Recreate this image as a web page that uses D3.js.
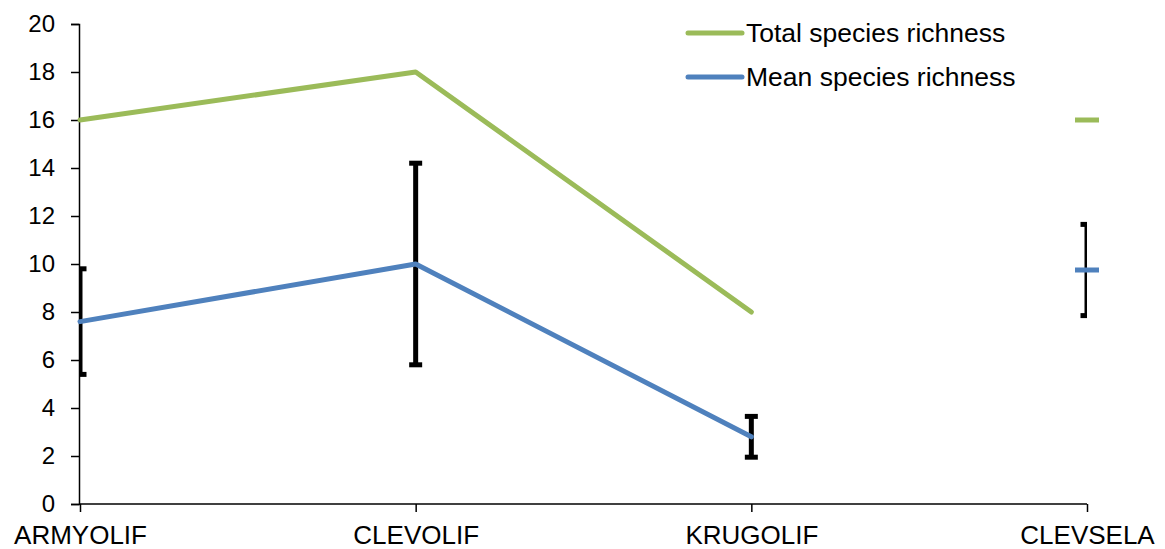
<!DOCTYPE html>
<html>
<head>
  <script src="https://d3js.org/d3.v7.js"></script>
  <style>
    html, body {
      margin: 0px;
      padding: 0px;
      background: #fff;
      font-family: "Liberation Sans", Arial, sans-serif;
    }
    #chart {
      width: 1165px;
      height: 549px;
      position: relative;
    }
    .axis text {
      font-family: "Liberation Sans", Arial, sans-serif;
      fill: #000;
    }
    .legend text {
      font-size: 26.5px;
    }
  </style>
</head>
<body>
  <div id="chart"></div>
  <script>
    /* data */
    const sites = ["ARMYOLIF", "CLEVOLIF", "KRUGOLIF", "CLEVSELA"];
    const totalRichness = [16, 18, 8, 16];
    const meanRichness = [7.6, 10, 2.8, 9.75];
    const meanError = [2.2, 4.2, 0.85, 1.9];
    // the last site is not joined to the line, it shows only as a dash marker
    const joined = [true, true, true, false];
    const yTicks = [0, 2, 4, 6, 8, 10, 12, 14, 16, 18, 20];

    const width = 1165, height = 549;
    const margin = {top: 24, left: 80, right: 78, bottom: 45};

    const svg = d3.select("#chart")
      .append("svg")
      .attr("width", width)
      .attr("height", height);

    const xScale = d3.scalePoint()
      .domain(sites)
      .range([margin.left, width - margin.right]);

    const yScale = d3.scaleLinear()
      .domain([0, 20])
      .range([height - margin.bottom, margin.top]);

    // clip for error bars (caps get cut at the plot edges)
    svg.append("clipPath").attr("id", "plotClip")
      .append("rect")
        .attr("x", margin.left)
        .attr("y", 0)
        .attr("width", width - margin.right - margin.left)
        .attr("height", height);

    /* axes */
    const yAxis = svg.append("g")
      .attr("class", "axis")
      .attr("transform", `translate(${margin.left - 1},0)`)
      .call(d3.axisLeft(yScale).tickValues(yTicks).tickSize(8).tickPadding(16));

    const xAxis = svg.append("g")
      .attr("class", "axis")
      .attr("transform", `translate(0,${height - margin.bottom})`)
      .call(d3.axisBottom(xScale).tickSize(8).tickPadding(14).tickSizeOuter(0));

    svg.selectAll(".axis path, .axis line")
      .attr("stroke", "#000")
      .attr("stroke-width", 1.5);
    yAxis.selectAll("text").attr("font-size", "24px");
    xAxis.selectAll("text").attr("font-size", "26px");
    xAxis.select(".domain").attr("d", `M${margin.left - 1},0H${width - margin.right}`);

    /* error bars */
    const errBars = svg.append("g")
      .attr("clip-path", "url(#plotClip)")
      .selectAll("g")
      .data(sites)
      .enter()
      .append("g")
        .attr("stroke", "#000")
        .attr("stroke-width", 5);

    errBars.append("line")
      .attr("x1", d => xScale(d))
      .attr("x2", d => xScale(d))
      .attr("y1", (d, i) => yScale(meanRichness[i] + meanError[i]))
      .attr("y2", (d, i) => yScale(meanRichness[i] - meanError[i]));

    [1, -1].forEach(function(sign) {
      errBars.append("line")
        .attr("x1", d => xScale(d) - 6.5)
        .attr("x2", d => xScale(d) + 6.5)
        .attr("y1", (d, i) => yScale(meanRichness[i] + sign * meanError[i]))
        .attr("y2", (d, i) => yScale(meanRichness[i] + sign * meanError[i]));
    });

    /* lines */
    const series = [
      {name: "Total species richness", values: totalRichness, color: "#9BBB59"},
      {name: "Mean species richness", values: meanRichness, color: "#4F81BD"}
    ];

    const line = d3.line()
      .defined((d, i) => joined[i])
      .x((d, i) => xScale(sites[i]))
      .y(d => yScale(d));

    series.forEach(function(s) {
      svg.append("path")
        .datum(s.values)
        .attr("fill", "none")
        .attr("stroke", s.color)
        .attr("stroke-width", 5)
        .attr("stroke-linejoin", "round")
        .attr("stroke-linecap", "round")
        .attr("d", line);

      // dash markers for points not joined to the line
      const lone = d3.range(sites.length).filter(i => !joined[i]);
      svg.selectAll(null)
        .data(lone)
        .enter()
        .append("line")
          .attr("x1", i => xScale(sites[i]) - 12)
          .attr("x2", i => xScale(sites[i]) + 12)
          .attr("y1", i => yScale(s.values[i]))
          .attr("y2", i => yScale(s.values[i]))
          .attr("stroke", s.color)
          .attr("stroke-width", 5);
    });

    /* legend */
    const legend = svg.append("g").attr("class", "legend")
      .selectAll("g")
      .data(series)
      .enter()
      .append("g")
        .attr("transform", (d, i) => `translate(688,${33 + i * 44})`);

    legend.append("line")
      .attr("x1", 0).attr("x2", 54)
      .attr("stroke", d => d.color)
      .attr("stroke-width", 5)
      .attr("stroke-linecap", "round");

    legend.append("text")
      .attr("x", 58)
      .attr("dy", "0.35em")
      .text(d => d.name);
  </script>
</body>
</html>
